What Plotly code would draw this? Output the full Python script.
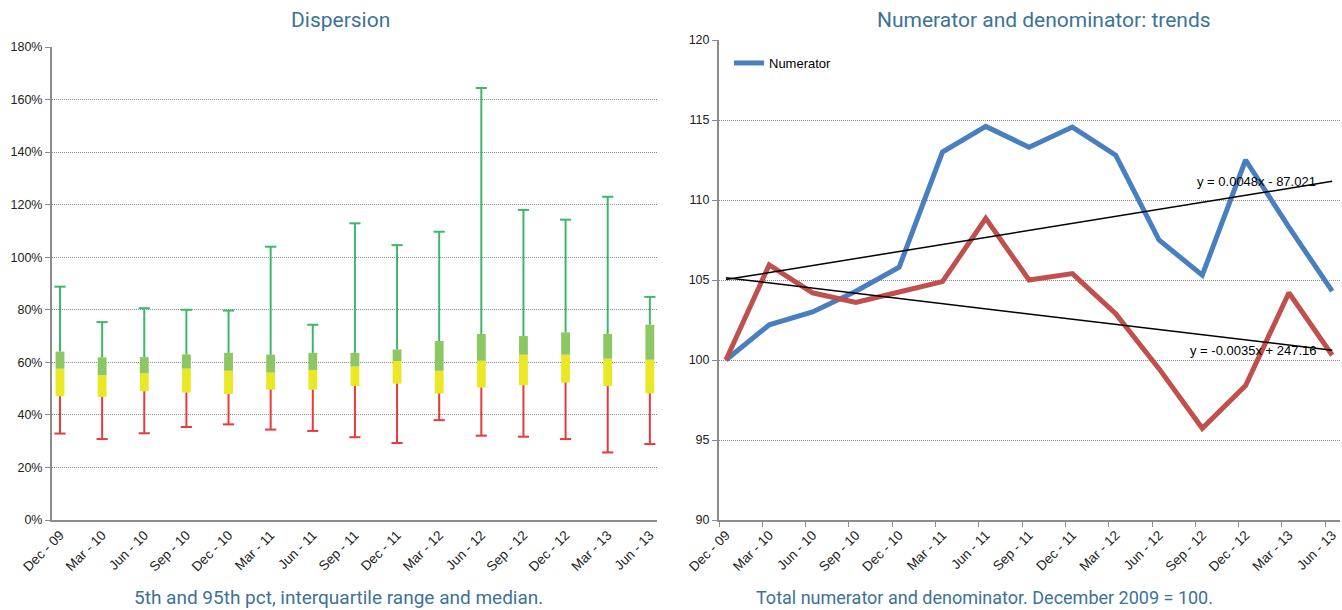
import numpy as np
import plotly.graph_objects as go

# Quarter labels shared by both panels
quarters = ["Dec - 09", "Mar - 10", "Jun - 10", "Sep - 10", "Dec - 10", "Mar - 11",
            "Jun - 11", "Sep - 11", "Dec - 11", "Mar - 12", "Jun - 12", "Sep - 12",
            "Dec - 12", "Mar - 13", "Jun - 13"]

# Dispersion panel (percent): 5th pct, Q1, median, Q3, 95th pct
p5 = [32.9, 30.8, 33.0, 35.4, 36.4, 34.4, 33.9, 31.5, 29.3, 38.0, 32.1, 31.7, 30.8, 25.7, 28.9]
q1 = [47.1, 46.9, 49.0, 48.5, 47.9, 49.6, 49.6, 51.0, 51.9, 48.1, 50.4, 51.3, 52.3, 51.0, 48.2]
median = [57.6, 55.1, 55.8, 57.6, 56.8, 56.1, 57.1, 58.4, 60.5, 56.8, 60.6, 62.9, 62.9, 61.4, 61.0]
q3 = [64.1, 61.9, 62.0, 63.0, 63.6, 62.9, 63.6, 63.6, 64.9, 68.1, 70.8, 70.0, 71.4, 70.8, 74.3]
p95 = [88.8, 75.3, 80.6, 80.0, 79.7, 104.0, 74.3, 112.9, 104.6, 109.7, 164.4, 118.0, 114.3, 123.0, 84.9]

# Trends panel (index, December 2009 = 100)
numerator = [100.0, 102.2, 103.0, 104.3, 105.8, 113.0, 114.6, 113.3, 114.56, 112.8,
             107.5, 105.3, 112.5, 108.3, 104.3]
denominator = [100.0, 105.95, 104.2, 103.6, 104.25, 104.9, 108.85, 105.0, 105.4, 102.9,
               99.46, 95.73, 98.4, 104.2, 100.3]
trend_labels = ["y = 0.0048x - 87.021", "y = -0.0035x + 247.16"]

YELLOW = "#EAE724"
GREEN_BOX = "#8CC764"
GREEN_W = "#3DB86B"
RED_W = "#E8393D"
BLUE = "#4A7FBF"
DARKRED = "#C0504D"
TITLE_C = "#3C7299"
AXIS_C = "#8C8C8C"
GRID_C = "#8A8A8A"
TXT_FONT = "Liberation Sans"
TITLE_FONT = "Roboto"

idx = np.arange(len(quarters))
q1a, meda, q3a = np.array(q1), np.array(median), np.array(q3)


def segments(x, lo, hi):
    xs, ys = [], []
    for a, b, c in zip(x, lo, hi):
        xs += [a, a, None]
        ys += [b, c, None]
    return xs, ys


fig = go.Figure()

# Interquartile boxes split at the median
fig.add_trace(go.Bar(x=idx, y=meda - q1a, base=q1a, width=0.21,
                     marker=dict(color=YELLOW, line_width=0),
                     showlegend=False, hoverinfo="skip", xaxis="x", yaxis="y"))
fig.add_trace(go.Bar(x=idx, y=q3a - meda, base=meda, width=0.21,
                     marker=dict(color=GREEN_BOX, line_width=0),
                     showlegend=False, hoverinfo="skip", xaxis="x", yaxis="y"))

# Whiskers to the 95th and 5th percentiles
wx, wy = segments(idx, q3, p95)
fig.add_trace(go.Scatter(x=wx, y=wy, mode="lines", line=dict(color=GREEN_W, width=2),
                         showlegend=False, hoverinfo="skip", xaxis="x", yaxis="y"))
fig.add_trace(go.Scatter(x=idx, y=p95, mode="markers",
                         marker=dict(symbol="line-ew", size=8, line=dict(color=GREEN_W, width=2)),
                         showlegend=False, hoverinfo="skip", xaxis="x", yaxis="y"))
wx, wy = segments(idx, p5, q1)
fig.add_trace(go.Scatter(x=wx, y=wy, mode="lines", line=dict(color=RED_W, width=2),
                         showlegend=False, hoverinfo="skip", xaxis="x", yaxis="y"))
fig.add_trace(go.Scatter(x=idx, y=p5, mode="markers",
                         marker=dict(symbol="line-ew", size=8, line=dict(color=RED_W, width=2)),
                         showlegend=False, hoverinfo="skip", xaxis="x", yaxis="y"))

# Trend panel lines
fig.add_trace(go.Scatter(x=idx, y=numerator, mode="lines", name="Numerator",
                         line=dict(color=BLUE, width=5), xaxis="x2", yaxis="y2"))
fig.add_trace(go.Scatter(x=idx, y=denominator, mode="lines", name="Denominator",
                         line=dict(color=DARKRED, width=5), showlegend=False,
                         xaxis="x2", yaxis="y2"))

# Linear trendlines fitted to each series
for series, label in zip([numerator, denominator], trend_labels):
    slope, intercept = np.polyfit(idx, series, 1)
    ends = np.array([idx[0], idx[-1]])
    fit = slope * ends + intercept
    fig.add_trace(go.Scatter(x=ends, y=fit, mode="lines",
                             line=dict(color="black", width=1.5),
                             showlegend=False, hoverinfo="skip", xaxis="x2", yaxis="y2"))
    fig.add_annotation(x=13.67, y=fit[-1], xref="x2", yref="y2", text=label,
                       showarrow=False, xanchor="right", yanchor="middle",
                       font=dict(family=TXT_FONT, size=13, color="black"))

axis_common = dict(showline=True, linecolor=AXIS_C, linewidth=2, zeroline=False,
                   automargin=False)
ytick_font = dict(family=TXT_FONT, size=12.5, color="#222")
xtick_font = dict(family=TXT_FONT, size=13.5, color="#222")

fig.update_layout(
    width=1342, height=610, autosize=False,
    margin=dict(l=0, r=0, t=0, b=0, autoexpand=False),
    paper_bgcolor="white", plot_bgcolor="white",
    barmode="overlay",
    xaxis=dict(domain=[52 / 1342, 657 / 1342], range=[-0.19, 14.17],
               tickmode="array", tickvals=idx, ticktext=quarters, tickangle=-45,
               tickfont=xtick_font, showgrid=False, ticks="", anchor="y", **axis_common),
    yaxis=dict(domain=[90 / 610, 563 / 610], range=[0, 180], dtick=20, ticksuffix="%",
               tickfont=ytick_font,
               showgrid=True, gridcolor=GRID_C, gridwidth=1, griddash="1px,1px",
               ticks="outside", ticklen=5, tickcolor=AXIS_C, anchor="x", **axis_common),
    xaxis2=dict(domain=[719 / 1342, 1340 / 1342], range=[-0.16, 14.18],
                tickmode="array", tickvals=idx, ticktext=quarters, tickangle=-45,
                tickfont=xtick_font, showgrid=False, ticks="",
                minor=dict(tickmode="linear", tick0=-0.16, dtick=1, ticks="outside",
                           ticklen=5, tickcolor=AXIS_C, showgrid=False),
                anchor="y2", **axis_common),
    yaxis2=dict(domain=[90 / 610, 570 / 610], range=[90, 120], dtick=5,
                tickfont=ytick_font,
                showgrid=True, gridcolor=GRID_C, gridwidth=1, griddash="1px,1px",
                ticks="outside", ticklen=5, tickcolor=AXIS_C, anchor="x2", **axis_common),
    legend=dict(x=729 / 1342, y=1 - 48 / 610, xanchor="left", yanchor="top",
                bgcolor="rgba(0,0,0,0)", font=dict(family=TXT_FONT, size=13, color="black")),
    showlegend=True,
)

# Panel titles and captions
titles = [
    ("Dispersion", 340 / 1342, 1 - 20 / 610, 21),
    ("Numerator and denominator: trends", 1044 / 1342, 1 - 20 / 610, 21),
    ("5th and 95th pct, interquartile range and median.", 339 / 1342, 1 - 597 / 610, 19),
    ("Total numerator and denominator. December 2009 = 100.", 985 / 1342, 1 - 597 / 610, 18),
]
for text, x, y, size in titles:
    fig.add_annotation(x=x, y=y, xref="paper", yref="paper", text=text, showarrow=False,
                       xanchor="center", yanchor="middle",
                       font=dict(family=TITLE_FONT, size=size, color=TITLE_C))

fig.write_html("out.html")
